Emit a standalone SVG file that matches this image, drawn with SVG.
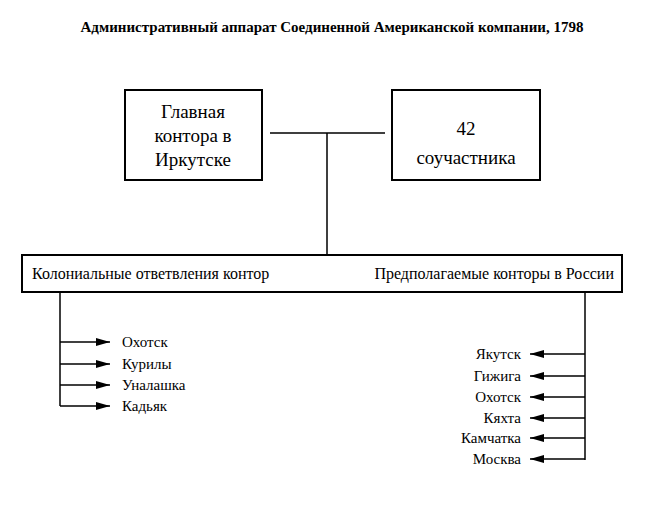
<svg xmlns="http://www.w3.org/2000/svg" width="664" height="523" viewBox="0 0 664 523">
<defs><marker id="ah" markerWidth="14" markerHeight="8" refX="14" refY="4" orient="auto" markerUnits="userSpaceOnUse" viewBox="0 0 14 8"><path d="M0,0 L14,4 L0,8 z" fill="#000"/></marker>
<style>text{font-family:'Liberation Serif','DejaVu Serif',serif}.b{fill:#fff;stroke:#000;stroke-width:2}.l{stroke:#000;stroke-width:1.5;fill:none}.s{font-size:15px}.m{font-size:16px}.g{font-size:19px}</style></defs>
<rect width="664" height="523" fill="#fff"/>
<text x="332" y="32" text-anchor="middle" font-size="15" font-weight="bold">Административный аппарат Соединенной Американской компании, 1798</text>
<g id="main"><rect class="b" x="125" y="90" width="137" height="90"/><text class="g" x="193" y="118" text-anchor="middle">Главная</text><text class="g" x="193" y="142" text-anchor="middle">контора в</text><text class="g" x="193" y="166" text-anchor="middle">Иркутске</text></g>
<g id="partners"><rect class="b" x="392" y="90" width="148" height="90"/><text class="g" x="466" y="135" text-anchor="middle">42</text><text class="g" x="466" y="164" text-anchor="middle">соучастника</text></g>
<g id="branches"><rect class="b" x="22" y="255" width="600" height="37"/><text class="m" x="32" y="279">Колониальные ответвления контор</text><text class="m" x="614" y="279" text-anchor="end">Предполагаемые конторы в России</text></g>
<g id="connectors">
<path class="l" d="M270,133 H385 M327,133 V255"/>
<path class="l" d="M60,292 V406"/>
<path class="l" marker-end="url(#ah)" d="M60,342 H110"/><path class="l" marker-end="url(#ah)" d="M60,364 H110"/><path class="l" marker-end="url(#ah)" d="M60,385 H110"/><path class="l" marker-end="url(#ah)" d="M60,406 H110"/>
<path class="l" d="M585,292 V460"/>
<path class="l" marker-end="url(#ah)" d="M585,354 H530"/><path class="l" marker-end="url(#ah)" d="M585,376 H530"/><path class="l" marker-end="url(#ah)" d="M585,397 H530"/><path class="l" marker-end="url(#ah)" d="M585,418 H530"/><path class="l" marker-end="url(#ah)" d="M585,438 H530"/><path class="l" marker-end="url(#ah)" d="M585,459 H530"/>
</g>
<g id="left"><text class="s" x="122" y="347">Охотск</text><text class="s" x="122" y="369">Курилы</text><text class="s" x="122" y="390">Уналашка</text><text class="s" x="122" y="411">Кадьяк</text></g>
<g id="right"><text class="s" x="521" y="359" text-anchor="end">Якутск</text><text class="s" x="521" y="381" text-anchor="end">Гижига</text><text class="s" x="521" y="402" text-anchor="end">Охотск</text><text class="s" x="521" y="423" text-anchor="end">Кяхта</text><text class="s" x="521" y="443" text-anchor="end">Камчатка</text><text class="s" x="521" y="464" text-anchor="end">Москва</text></g>
</svg>
